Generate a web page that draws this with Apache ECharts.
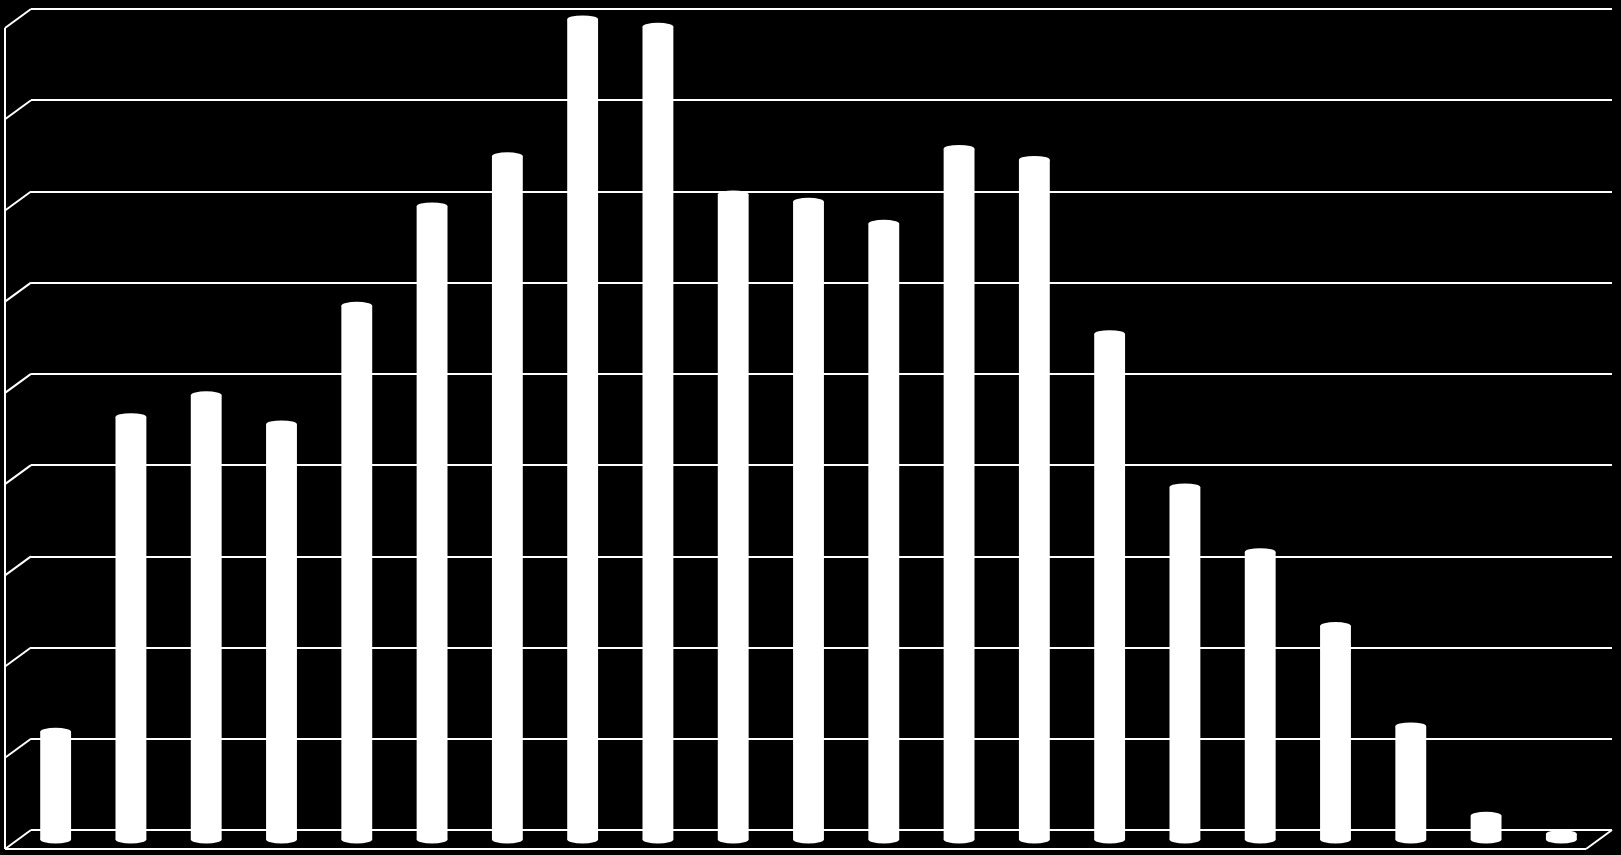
<!DOCTYPE html>
<html>
<head>
<meta charset="utf-8">
<script src="https://cdn.jsdelivr.net/npm/echarts@6/dist/echarts.min.js"></script>
<style>
html,body{margin:0;padding:0;background:#000;}
#chart{width:1621px;height:855px;}
</style>
</head>
<body>
<div id="chart"></div>
<script>
// Data (values in gridline units; the reference has no labels)
const categories = ['1','2','3','4','5','6','7','8','9','10','11','12','13','14','15','16','17','18','19','20','21'];
const values = [1.18, 4.63, 4.87, 4.55, 5.85, 6.94, 7.49, 8.99, 8.91, 7.07, 6.99, 6.75, 7.57, 7.45, 5.54, 3.86, 3.15, 2.34, 1.24, 0.26, 0.06];
const yTicks = [0,1,2,3,4,5,6,7,8,9];

const DEPTH_X = -26, DEPTH_Y = 19;   // oblique depth of the 3D box
const LINE = '#ffffff';

const chart = echarts.init(document.getElementById('chart'), null, {renderer:'canvas'});

function renderFrame(params, api) {
  const cs = params.coordSys;
  const gx = cs.x, gw = cs.width;
  const children = [];
  yTicks.forEach(v => {
    const y = api.coord([0, v])[1];
    children.push({type:'line', shape:{x1:gx, y1:y, x2:gx+DEPTH_X, y2:y+DEPTH_Y}, style:{stroke:LINE, lineWidth:2}});
  });
  const yTop = api.coord([0, yTicks[yTicks.length-1]])[1];
  const y0 = api.coord([0, 0])[1];
  // left wall front edge
  children.push({type:'line', shape:{x1:gx+DEPTH_X, y1:yTop+DEPTH_Y, x2:gx+DEPTH_X, y2:y0+DEPTH_Y}, style:{stroke:LINE, lineWidth:2}});
  // floor front edge
  children.push({type:'line', shape:{x1:gx+DEPTH_X, y1:y0+DEPTH_Y, x2:gx+gw+DEPTH_X, y2:y0+DEPTH_Y}, style:{stroke:LINE, lineWidth:2}});
  // floor right edge
  children.push({type:'line', shape:{x1:gx+gw+DEPTH_X, y1:y0+DEPTH_Y, x2:gx+gw, y2:y0}, style:{stroke:LINE, lineWidth:2}});
  return {type:'group', children};
}

function renderBar(params, api) {
  const idx = api.value(0), v = api.value(1);
  const top = api.coord([idx, v]);
  const base = api.coord([idx, 0]);
  const cx = top[0] + DEPTH_X/2;
  const ty = top[1] + DEPTH_Y/2;
  const by = base[1] + DEPTH_Y/2;
  const w = api.size([1, 0])[0] * 0.41;
  const r = w/2, ry = 4;
  return {
    type:'group',
    children:[
      {type:'rect', shape:{x:cx-r, y:ty, width:w, height:Math.max(0, by-ty)}, style:{fill:'#fff'}},
      {type:'circle', x:cx, y:by, scaleY:ry/r, shape:{cx:0, cy:0, r:r}, style:{fill:'#fff'}},
      {type:'circle', x:cx, y:ty, scaleY:ry/r, shape:{cx:0, cy:0, r:r}, style:{fill:'#fff'}}
    ]
  };
}

chart.setOption({
  backgroundColor:'#000',
  animation:false,
  grid:{left:31, right:9, top:9, bottom:25, containLabel:false},
  xAxis:{type:'category', data:categories, axisLine:{show:false}, axisTick:{show:false}, axisLabel:{show:false}, splitLine:{show:false}},
  yAxis:{type:'value', min:0, max:9, interval:1, axisLine:{show:false}, axisTick:{show:false}, axisLabel:{show:false},
         splitLine:{show:true, lineStyle:{color:LINE, width:2}}},
  series:[
    {type:'custom', name:'frame', data:[[0,0]], renderItem:renderFrame, silent:true, z:1},
    {type:'custom', name:'bars', data:values.map((v,i)=>[i, v]), renderItem:renderBar, silent:true, z:2}
  ]
});
</script>
</body>
</html>
